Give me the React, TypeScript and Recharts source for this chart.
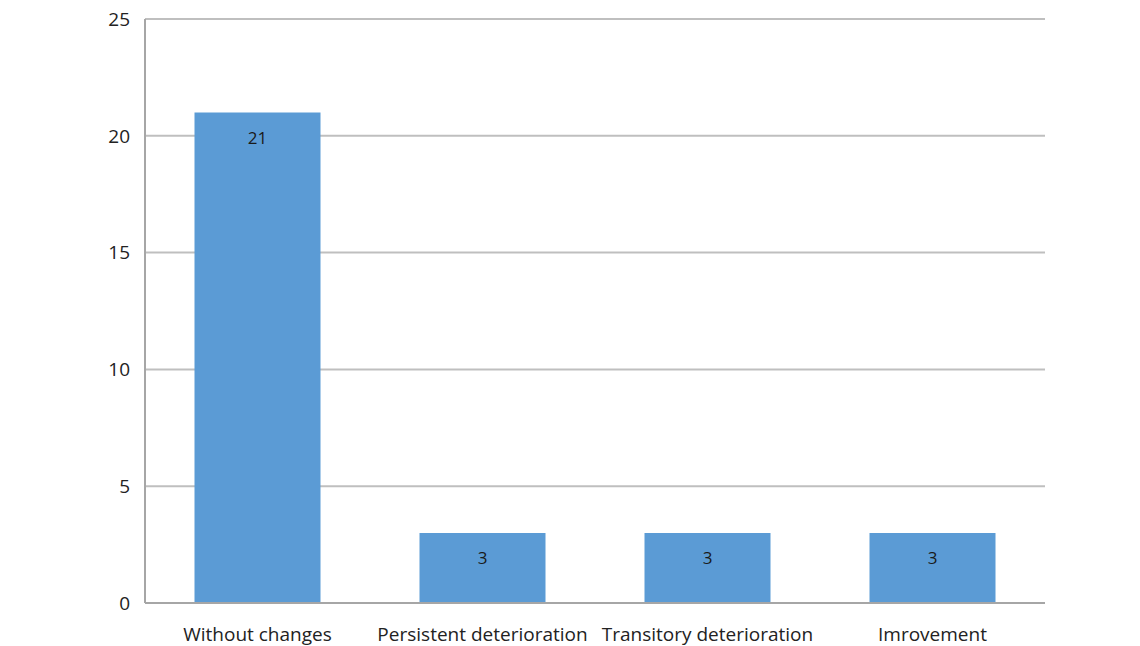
import { BarChart, Bar, XAxis, YAxis, CartesianGrid, LabelList } from 'recharts'

const categories = ['Without changes', 'Persistent deterioration', 'Transitory deterioration', 'Imrovement']
const counts = [21, 3, 3, 3]
const yTicks = [0, 5, 10, 15, 20, 25]

const data = categories.map((name, i) => ({ name, count: counts[i] }))

const font = '"Open Sans", sans-serif'

export default function App() {
    return (
        <div style={{ position: 'absolute', left: 0, top: 0, background: '#fff' }}>
            <BarChart
                width={1140}
                height={646}
                data={data}
                margin={{ top: 19, right: 95, bottom: 0, left: 0 }}
                barCategoryGap="22%"
            >
                <CartesianGrid vertical={false} stroke="#bfbfbf" strokeWidth={2} />
                <XAxis
                    dataKey="name"
                    height={43}
                    interval={0}
                    tickLine={false}
                    tickSize={6}
                    tickMargin={19}
                    axisLine={{ stroke: '#a6a6a6', strokeWidth: 2 }}
                    tick={{ fontSize: 19, fill: '#222', fontFamily: font }}
                />
                <YAxis
                    width={145}
                    domain={[0, 25]}
                    ticks={yTicks}
                    interval={0}
                    tickLine={false}
                    tickSize={6}
                    tickMargin={9}
                    axisLine={{ stroke: '#a6a6a6', strokeWidth: 2 }}
                    tick={{ fontSize: 19, fill: '#222', fontFamily: font }}
                />
                <Bar dataKey="count" fill="#5b9bd5" isAnimationActive={false}>
                    <LabelList
                        dataKey="count"
                        position="insideTop"
                        offset={19}
                        style={{ fontSize: 17, fill: '#1a1a1a', fontFamily: font }}
                    />
                </Bar>
            </BarChart>
        </div>
    )
}
